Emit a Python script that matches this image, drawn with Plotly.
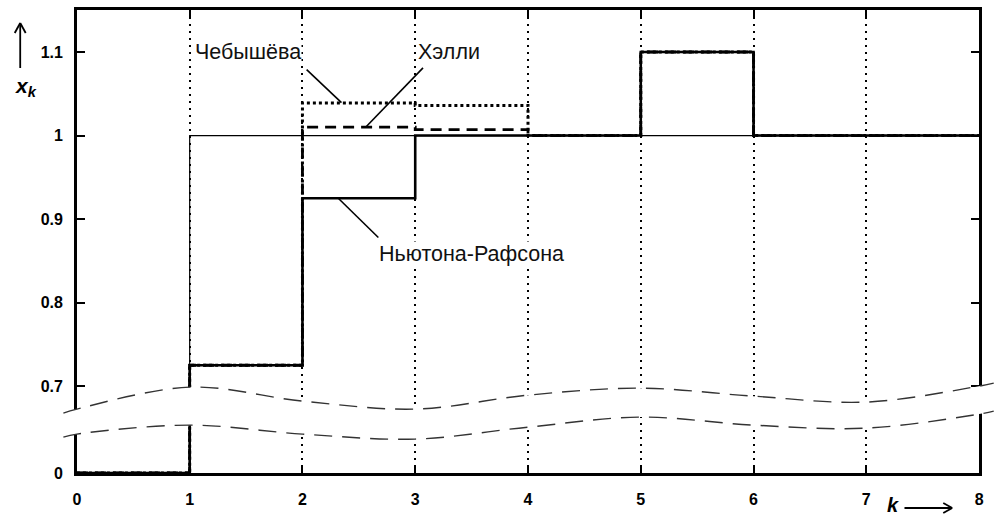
import plotly.graph_objects as go

# ---------------- data ----------------
k_steps = [0, 1, 2, 3, 4, 5, 6, 7, 8]
x_ref = [0, 1, 1, 1, 1, 1, 1, 1, 1]
x_newton = [0, 0.725, 0.925, 1.0, 1.0, 1.1, 1.0, 1.0, 1.0]
x_halley = [0, 0.725, 1.010, 1.007, 1.0, 1.1, 1.0, 1.0, 1.0]
x_cheb = [0, 0.725, 1.039, 1.036, 1.0, 1.1, 1.0, 1.0, 1.0]

y_tick_vals = [0, 0.7, 0.8, 0.9, 1.0, 1.1]
y_tick_text = ["0", "0.7", "0.8", "0.9", "1", "1.1"]
x_tick_vals = [0, 1, 2, 3, 4, 5, 6, 7, 8]

# axis-break wave (decorative), in k units / display units
wave_k = [-0.12, 0, 1, 2, 3, 4, 5, 6, 7, 8, 8.13]
wave_upper = [0.6677, 0.6725, 0.6988, 0.6821, 0.6725, 0.6892, 0.6976, 0.688, 0.6809, 0.700, 0.7036]
wave_lower = [0.639, 0.6426, 0.6533, 0.6426, 0.6366, 0.6509, 0.6629, 0.6533, 0.6497, 0.6665, 0.6701]

# ---------------- broken y-axis mapping ----------------
ZERO_POS = 0.596  # where value 0 is drawn (below the break)
Y_RANGE = [0.596, 1.1503]


def disp(v):
    return v if v >= 0.65 else ZERO_POS + v


W, H = 999, 517
ML, MR, MT, MB = 60, 0, 10, 44
PW, PH = W - ML - MR, H - MT - MB
X0_PX, X8_PX = 77, 984
dom_x = [(X0_PX - ML) / PW, (X8_PX - ML) / PW]
k_per_px = 8 / (X8_PX - X0_PX)
x2_range = [(ML - X0_PX) * k_per_px, (W - MR - X0_PX) * k_per_px]


def px(xp):
    return (xp - ML) / PW


def py(yp):
    return (MT + PH - yp) / PH


fig = go.Figure()

font_main = "Liberation Sans, Arial, sans-serif"


def step_trace(vals, width, dash, name):
    xs = k_steps
    ys = [disp(v) for v in vals]
    return go.Scatter(x=xs, y=ys, mode="lines", line=dict(shape="hv", color="black", width=width, dash=dash),
                      name=name, showlegend=False, hoverinfo="skip")


fig.add_trace(step_trace(x_ref, 1.2, "solid", "ref"))
fig.add_trace(step_trace(x_newton, 2.6, "solid", "Ньютона-Рафсона"))
fig.add_trace(step_trace(x_halley, 2.8, "11px,7px", "Хэлли"))
fig.add_trace(step_trace(x_cheb, 3, "3px,3px", "Чебышёва"))

# break band (white) and wavy dashed lines on an overlay subplot
fig.add_trace(go.Scatter(x=wave_k, y=wave_lower, mode="lines", line=dict(width=0, shape="spline", color="white"),
                         xaxis="x2", yaxis="y2", showlegend=False, hoverinfo="skip"))
fig.add_trace(go.Scatter(x=wave_k, y=wave_upper, mode="lines", line=dict(width=0, shape="spline", color="white"),
                         fill="tonexty", fillcolor="white",
                         xaxis="x2", yaxis="y2", showlegend=False, hoverinfo="skip"))
for wv in (wave_upper, wave_lower):
    fig.add_trace(go.Scatter(x=wave_k, y=wv, mode="lines",
                             line=dict(width=1.4, shape="spline", color="#333333", dash="18px,10px"),
                             xaxis="x2", yaxis="y2", showlegend=False, hoverinfo="skip"))

fig.update_layout(
    width=W, height=H,
    margin=dict(l=ML, r=MR, t=MT, b=MB),
    plot_bgcolor="rgba(0,0,0,0)", paper_bgcolor="white",
    font=dict(family=font_main, color="black"),
    xaxis=dict(domain=dom_x, range=[0, 8], tickvals=x_tick_vals, ticktext=[str(v) for v in x_tick_vals],
               showline=True, linecolor="black", linewidth=2.5, mirror="allticks",
               ticks="inside", ticklen=8, tickwidth=2, tickcolor="black",
               showgrid=True, gridcolor="black", gridwidth=1.5, griddash="1.5px,5.5px",
               zeroline=False, tickfont=dict(size=16, weight="bold"), ticklabelstandoff=10),
    yaxis=dict(domain=[0, 1], range=Y_RANGE, tickvals=[disp(v) for v in y_tick_vals], ticktext=y_tick_text,
               showline=True, linecolor="black", linewidth=2.5, mirror="allticks",
               ticks="inside", ticklen=8, tickwidth=2, tickcolor="black",
               showgrid=False, zeroline=False, tickfont=dict(size=16, weight="bold"), ticklabelstandoff=8),
    xaxis2=dict(domain=[0, 1], range=x2_range, anchor="y2", visible=False, fixedrange=True),
    yaxis2=dict(domain=[0, 1], range=Y_RANGE, anchor="x2", visible=False, fixedrange=True),
)

# series labels with leader lines (data coords of main axes)
labels = [
    ("Чебышёва", 1.517, 1.1006, [(2.037, 1.079), (2.346, 1.0395)]),
    ("Хэлли", 3.30, 1.1006, [(3.069, 1.081), (2.558, 1.0096)]),
    ("Ньютона-Рафсона", 3.50, 0.8587, [(2.32, 0.9246), (2.673, 0.878)]),
]
for txt, lx, ly, seg in labels:
    fig.add_annotation(x=lx, y=ly, xref="x", yref="y", text=txt, showarrow=False,
                       xanchor="center", yanchor="middle",
                       font=dict(size=21.5, family=font_main, color="#111111"), bgcolor="white",
                       borderpad=0)
    fig.add_shape(type="line", xref="x", yref="y", x0=seg[0][0], y0=seg[0][1], x1=seg[1][0], y1=seg[1][1],
                  line=dict(color="black", width=1.6))

# axis titles
fig.add_annotation(x=px(26), y=py(87), xref="paper", yref="paper", showarrow=False,
                   xanchor="center", yanchor="middle",
                   text="<b><i>x</i></b><sub><b><i>k</i></b></sub>", font=dict(size=21, family=font_main))
fig.add_annotation(x=px(897), y=py(505), xref="paper", yref="paper", showarrow=False,
                   xanchor="center", yanchor="middle",
                   text="<b><i>k</i></b>", font=dict(size=20, family=font_main))

arrow_lines = [
    (20, 68, 20, 24), (20, 23, 14.5, 33), (20, 23, 25.5, 33),
    (909, 508, 956, 508), (957, 508, 948, 503), (957, 508, 948, 513),
]
for xa, ya, xb, yb in arrow_lines:
    fig.add_shape(type="line", xref="paper", yref="paper", x0=px(xa), y0=py(ya), x1=px(xb), y1=py(yb),
                  line=dict(color="black", width=1.8))

fig.write_html("out.html", config={"displayModeBar": False},
               post_script="document.body.style.margin='0px';")
